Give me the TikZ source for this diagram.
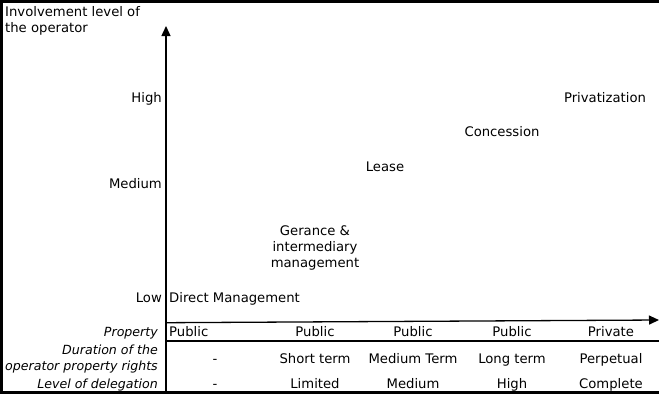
\documentclass[tikz,border=0pt]{standalone}
\usepackage{fontspec}
\setmainfont{DejaVu Sans}
\usetikzlibrary{arrows.meta}
\begin{document}
\begin{tikzpicture}[x=1pt,y=-1pt,
  every node/.style={inner sep=0pt, font=\fontsize{13.2}{16}\selectfont,
    text height=9.8pt, text depth=2.7pt},
  multi/.style={text height=, text depth=},
  level/.style={anchor=east},
  rowlbl/.style={anchor=east, font=\fontsize{12.6}{16}\selectfont\itshape, align=right},
  cell/.style={anchor=center},
  axis/.style={line width=1.3pt, -{Triangle[width=9pt,length=10pt]}},
  frame/.style={line width=3pt},
  rule/.style={line width=1.3pt}]
\useasboundingbox (0,0) rectangle (659,394);

% open frame: top, left and bottom sides
\coordinate (tr) at (659,1.5);
\coordinate (tl) at (1.5,1.5);
\coordinate (bl) at (1.5,392.5);
\coordinate (br) at (659,392.5);
\draw[frame] (tr) -- (tl) -- (bl) -- (br);

% axes
\coordinate (yfoot) at (166,392);
\coordinate (ytip) at (166,26);
\coordinate (xfoot) at (166,322.7);
\coordinate (xtip) at (659,320);
\draw[axis] (yfoot) -- (ytip);
\draw[axis] (xfoot) -- (xtip);

% rule under the property row
\coordinate (rl) at (166,341);
\coordinate (rr) at (659,341);
\draw[rule] (rl) -- (rr);

% vertical axis title
\node[multi, anchor=north west, align=left] (ytitle) at (5,6)
  {Involvement level of\\the operator};

% involvement levels
\node[level] (high) at (162,99) {High};
\node[level] (medium) at (162,184.5) {Medium};
\node[level] (low) at (162,299) {Low};

% management modes
\node[anchor=west] (direct) at (169,299) {Direct Management};
\node[multi, anchor=north, align=center] (gerance) at (315,225)
  {Gerance \&\\intermediary\\management};
\node[cell] (lease) at (385,168) {Lease};
\node[cell] (concession) at (502,133) {Concession};
\node[cell] (privat) at (605,98.5) {Privatization};

% row headings
\node[rowlbl] (hprop) at (158,332.5) {Property};
\node[rowlbl, multi, anchor=north east] (hdur) at (158,344.5)
  {Duration of the\\operator property rights};
\node[rowlbl] (hdel) at (158,384.5) {Level of delegation};

% property row
\node[anchor=west] (p1) at (169,332.5) {Public};
\node[cell] (p2) at (315,332.5) {Public};
\node[cell] (p3) at (413,332.5) {Public};
\node[cell] (p4) at (512,332.5) {Public};
\node[cell] (p5) at (611,332.5) {Private};

% duration row
\node[cell] (d1) at (215,359.5) {-};
\node[cell] (d2) at (315,359.5) {Short term};
\node[cell] (d3) at (413,359.5) {Medium Term};
\node[cell] (d4) at (512,359.5) {Long term};
\node[cell] (d5) at (611,359.5) {Perpetual};

% delegation row
\node[cell] (l1) at (215,384.5) {-};
\node[cell] (l2) at (315,384.5) {Limited};
\node[cell] (l3) at (413,384.5) {Medium};
\node[cell] (l4) at (512,384.5) {High};
\node[cell] (l5) at (611,384.5) {Complete};
\end{tikzpicture}
\end{document}
